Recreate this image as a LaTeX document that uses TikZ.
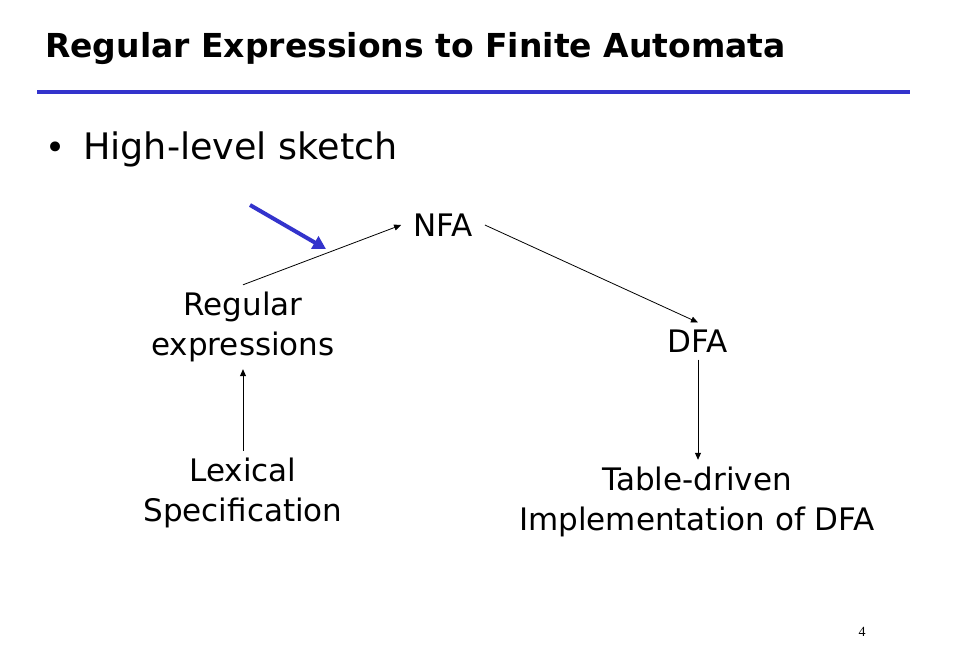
\documentclass[tikz,border=0pt]{standalone}
\usepackage{fontspec}
\setmainfont{DejaVu Sans}
\newfontfamily\numfont{Liberation Serif}
\usetikzlibrary{arrows.meta}
\definecolor{slideblue}{HTML}{3333CC}
\begin{document}
\begin{tikzpicture}[x=1pt,y=-1pt,
  lbl/.style={font=\fontsize{31}{40}\selectfont, align=center, inner xsep=8pt, inner ysep=7pt},
  conn/.style={draw=black, line width=0.8pt, -{Triangle[length=7pt,width=6pt]}},
  hint/.style={draw=slideblue, line width=4pt, -{Triangle[length=13pt,width=14pt]}}]
\useasboundingbox (0,0) rectangle (961,650);
\node[anchor=base west, inner sep=0pt, font=\bfseries\fontsize{33}{38}\selectfont] (title) at (45,58) {Regular Expressions to Finite Automata};
\draw[slideblue, line width=4pt] (37,92) coordinate (r1) -- (910,92) coordinate (r2);
\node[anchor=base west, inner sep=0pt, font=\fontsize{34}{40}\selectfont] (bul) at (45,160) {•};
\node[anchor=base west, inner sep=0pt, font=\fontsize{36.5}{42}\selectfont] (sketch) at (83,160) {High-level sketch};
\node[lbl, inner xsep=12pt] (nfa) at (443,225) {NFA};
\node[lbl] (re) at (243,327) {Regular\\expressions};
\node[lbl] (dfa) at (698,341) {DFA};
\node[lbl] (lex) at (243,493) {Lexical\\Specification};
\node[lbl] (tab) at (697,502) {Table-driven\\Implementation of DFA};
\draw[conn] (re.north) -- (nfa.west);
\draw[conn] (nfa.east) -- (dfa.north);
\draw[conn] (dfa.south) -- (tab.north -| dfa.south);
\draw[conn] (lex.north) -- (re.south);
\coordinate (hs) at (250,205);
\coordinate (he) at (326,249);
\draw[hint] (hs) -- (he);
\node[anchor=base, inner sep=0pt, font=\numfont\fontsize{14}{16}\selectfont] (pg) at (862,636) {4};
\end{tikzpicture}
\end{document}
